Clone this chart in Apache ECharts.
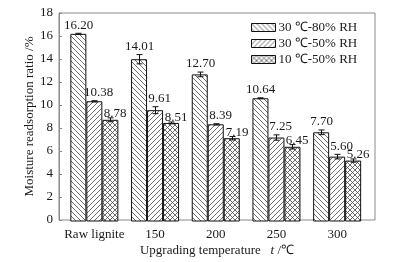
<!DOCTYPE html>
<html>
<head>
<meta charset="utf-8">
<script src="https://cdn.jsdelivr.net/npm/echarts@6/dist/echarts.min.js"></script>
<style>
  html, body { margin: 0; padding: 0; background: #fff; }
  #chart { width: 394px; height: 262px; }
</style>
</head>
<body>
<div id="chart"></div>
<script>
// data
const categories = ['Raw lignite', '150', '200', '250', '300']
const seriesNames = ['30 ℃-80% RH', '30 ℃-50% RH', '10 ℃-50% RH']
const ratio30c80 = [16.20, 14.01, 12.70, 10.64, 7.70]
const err30c80 = [0.05, 0.40, 0.20, 0.04, 0.20]
const ratio30c50 = [10.38, 9.61, 8.39, 7.25, 5.60]
const err30c50 = [0.05, 0.30, 0.05, 0.23, 0.20]
const ratio10c50 = [8.78, 8.51, 7.19, 6.45, 5.26]
const err10c50 = [0.17, 0.08, 0.15, 0.19, 0.14]
const yTicks = { min: 0, max: 18, interval: 2 }

const FONT = '"Liberation Serif", "Times New Roman", serif'
const TEXT = '#1a1a1a'
const FRAME = '#8a8a8a'
const BAR_W = 16

// hatch fill: 'back' = \\\, 'fwd' = ///, 'cross' = xxx
function hatch (type) {
  const s = 5
  const c = document.createElement('canvas')
  c.width = s
  c.height = s
  const g = c.getContext('2d')
  g.fillStyle = '#fff'
  g.fillRect(0, 0, s, s)
  g.strokeStyle = '#4a4a4a'
  g.lineWidth = 0.8
  g.beginPath()
  for (const k of [-s, 0, s]) {
    if (type === 'back' || type === 'cross') {
      g.moveTo(k, 0)
      g.lineTo(k + s, s)
    }
    if (type === 'fwd' || type === 'cross') {
      g.moveTo(k, s)
      g.lineTo(k + s, 0)
    }
  }
  g.stroke()
  return { image: c, repeat: 'repeat' }
}

function barSeries (name, vals, fill) {
  return {
    name: name,
    type: 'bar',
    xAxisIndex: 0,
    yAxisIndex: 0,
    barWidth: BAR_W,
    barGap: '0%',
    data: vals,
    itemStyle: { color: fill, borderColor: '#111', borderWidth: 1 }
  }
}

// error bars + value labels, idx = position inside the group
function errSeries (vals, errs, idx, dx, dy) {
  return {
    type: 'custom',
    xAxisIndex: 0,
    yAxisIndex: 0,
    z: 5,
    silent: true,
    encode: { x: 0, y: 1 },
    data: vals.map((v, i) => [i, v, errs[i]]),
    renderItem (params, api) {
      const v = api.value(1)
      const e = api.value(2)
      const x = Math.round(api.coord([api.value(0), 0])[0] + (idx - 1) * BAR_W) + 0.5
      const hi = api.coord([0, v + e])[1]
      const lo = api.coord([0, v - e])[1]
      const ln = { stroke: '#111', lineWidth: 1 }
      return {
        type: 'group',
        children: [
          { type: 'line', shape: { x1: x, y1: hi, x2: x, y2: lo }, style: ln },
          { type: 'line', shape: { x1: x - 3, y1: hi, x2: x + 3, y2: hi }, style: ln },
          { type: 'line', shape: { x1: x - 3, y1: lo, x2: x + 3, y2: lo }, style: ln },
          {
            type: 'text',
            style: {
              text: v.toFixed(2),
              x: x + dx,
              y: hi - dy,
              align: 'center',
              verticalAlign: 'middle',
              fontSize: 13,
              fontFamily: FONT,
              fill: TEXT
            }
          }
        ]
      }
    }
  }
}

const chart = echarts.init(document.getElementById('chart'), null, { renderer: 'canvas' })

chart.setOption({
  animation: false,
  backgroundColor: '#fff',
  textStyle: { fontFamily: FONT, color: TEXT },
  legend: {
    data: seriesNames,
    orient: 'vertical',
    left: 251,
    top: 21,
    padding: 0,
    icon: 'rect',
    itemWidth: 24,
    itemHeight: 8,
    itemGap: 3,
    itemStyle: { borderColor: '#111', borderWidth: 1 },
    textStyle: { fontSize: 13, fontFamily: FONT, color: TEXT, padding: [0, 0, 0, -2] }
  },
  grid: [
    { left: 64, right: 26.5, top: 13, bottom: 40.5 },
    { left: 59, right: 19, top: 13, bottom: 40.5, show: true, borderColor: FRAME, borderWidth: 1, backgroundColor: 'transparent' }
  ],
  xAxis: [
    {
      type: 'category',
      gridIndex: 0,
      data: categories,
      axisLine: { show: false },
      axisTick: { show: false },
      axisLabel: { interval: 0, margin: 7, fontSize: 13, fontFamily: FONT, color: TEXT }
    },
    {
      type: 'value',
      gridIndex: 1,
      min: 0,
      max: 1,
      axisLine: { show: false },
      axisTick: { show: false },
      axisLabel: { show: false },
      splitLine: { show: false },
      name: 'Upgrading temperature   {i|t} /℃',
      nameLocation: 'middle',
      nameGap: 24,
      nameMoveOverlap: false,
      nameTextStyle: {
        fontSize: 13,
        fontFamily: FONT,
        color: TEXT,
        rich: { i: { fontStyle: 'italic', fontSize: 13, fontFamily: FONT, color: TEXT } }
      }
    }
  ],
  yAxis: [
    { type: 'value', gridIndex: 0, min: yTicks.min, max: yTicks.max, interval: yTicks.interval, show: false },
    {
      type: 'value',
      gridIndex: 1,
      min: yTicks.min,
      max: yTicks.max,
      interval: yTicks.interval,
      axisLine: { show: true, lineStyle: { color: FRAME } },
      axisTick: { show: true, inside: true, length: 3, lineStyle: { color: FRAME } },
      axisLabel: { margin: 6, fontSize: 13, fontFamily: FONT, color: TEXT },
      splitLine: { show: false },
      name: 'Moisture readsorption ratio /%',
      nameLocation: 'middle',
      nameGap: 23,
      nameMoveOverlap: false,
      nameTextStyle: { fontSize: 13, fontFamily: FONT, color: TEXT }
    }
  ],
  series: [
    barSeries(seriesNames[0], ratio30c80, hatch('back')),
    barSeries(seriesNames[1], ratio30c50, hatch('fwd')),
    barSeries(seriesNames[2], ratio10c50, hatch('cross')),
    errSeries(ratio30c80, err30c80, 0, 0, 8),
    errSeries(ratio30c50, err30c50, 1, 4, 8),
    errSeries(ratio10c50, err10c50, 2, 4.5, 4)
  ]
})
</script>
</body>
</html>
